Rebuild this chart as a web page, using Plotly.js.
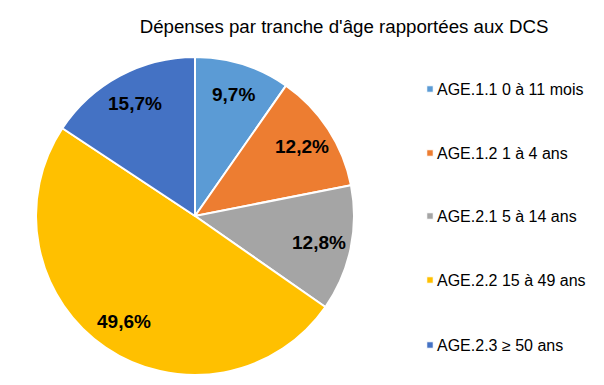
<!DOCTYPE html>
<html><head><meta charset="utf-8">
<script src="https://cdn.plot.ly/plotly-3.0.1.min.js"></script>
<style>body{margin:0;background:#fff}#c{width:604px;height:385px}</style>
</head><body><div id="c"></div>
<script>
const labels = ["AGE.1.1 0 à 11 mois","AGE.1.2 1 à 4 ans","AGE.2.1 5 à 14 ans","AGE.2.2 15 à 49 ans","AGE.2.3 ≥ 50 ans"];
const values = [9.7, 12.2, 12.8, 49.6, 15.7];
const textLabels = ["9,7%","12,2%","12,8%","49,6%","15,7%"];
const colors = ["#5B9BD5","#ED7D31","#A5A5A5","#FFC000","#4472C4"];
const title = "Dépenses par tranche d'âge rapportées aux DCS";

// pie geometry (pixels)
const W = 604, H = 385, cx = 195, cy = 216, R = 159, labelFrac = 0.80;

const data = [{
  type: "pie", values: values, labels: labels,
  textinfo: "none", textposition: "none",
  sort: false, direction: "clockwise", rotation: 0,
  marker: {colors: colors, line: {color: "#fff", width: 2}},
  hoverinfo: "none",
  domain: {x: [(cx-R)/W, (cx+R)/W], y: [(H-cy-R)/H, (H-cy+R)/H]}
}];

// label positions derived from the slice angles
const total = values.reduce((a,b)=>a+b,0);
let cum = 0;
const annotations = values.map((v,i) => {
  const mid = (cum + v/2) / total * 2*Math.PI; cum += v;
  const px = cx + labelFrac*R*Math.sin(mid), py = cy - labelFrac*R*Math.cos(mid);
  return {text: "<b>"+textLabels[i]+"</b>", x: px/W, y: 1-py/H, xref: "paper", yref: "paper",
          showarrow: false, xanchor: "center", yanchor: "middle",
          font: {family: "Liberation Sans, Arial", size: 19, color: "#000"}};
});

const layout = {
  width: W, height: H, margin: {l:0,r:0,t:0,b:0, autoexpand: false},
  paper_bgcolor: "#fff",
  font: {family: "Liberation Sans, Arial", color: "#000"},
  title: {text: title, x: 344/W, xanchor: "center", y: 1-26/H, yanchor: "middle", automargin: false,
          font: {size: 18.7, family: "Liberation Sans, Arial", color: "#000"}},
  showlegend: true,
  annotations: annotations,
  legend: {x: 420/W, y: 1-70/H, xanchor: "left", yanchor: "top",
           font: {size: 16, family: "Liberation Sans, Arial", color: "#000"}}
};
Plotly.newPlot("c", data, layout, {staticPlot: true}).then(() => {
  const ys = [89, 153, 216, 280, 345];
  const leg = document.querySelector(".legend");
  leg.querySelectorAll("[clip-path]").forEach(e => e.removeAttribute("clip-path"));
  const m = /translate\(([-\d.]+),\s*([-\d.]+)\)/.exec(leg.getAttribute("transform"));
  const lx = parseFloat(m[1]), ly = parseFloat(m[2]);
  leg.querySelectorAll(".traces").forEach((g, i) => {
    g.setAttribute("transform", `translate(0,${ys[i]-ly})`);
    g.querySelectorAll(".legendpoints path").forEach(p =>
      p.setAttribute("transform", `translate(${430-lx},0) scale(0.55)`));
    const t = g.querySelector("text");
    if (t) t.setAttribute("x", 437-lx);
  });
  const bg = leg.querySelector(".bg"); if (bg) bg.style.display = "none";
  const sb = leg.querySelector(".scrollbar"); if (sb) sb.style.display = "none";
});
</script></body></html>
